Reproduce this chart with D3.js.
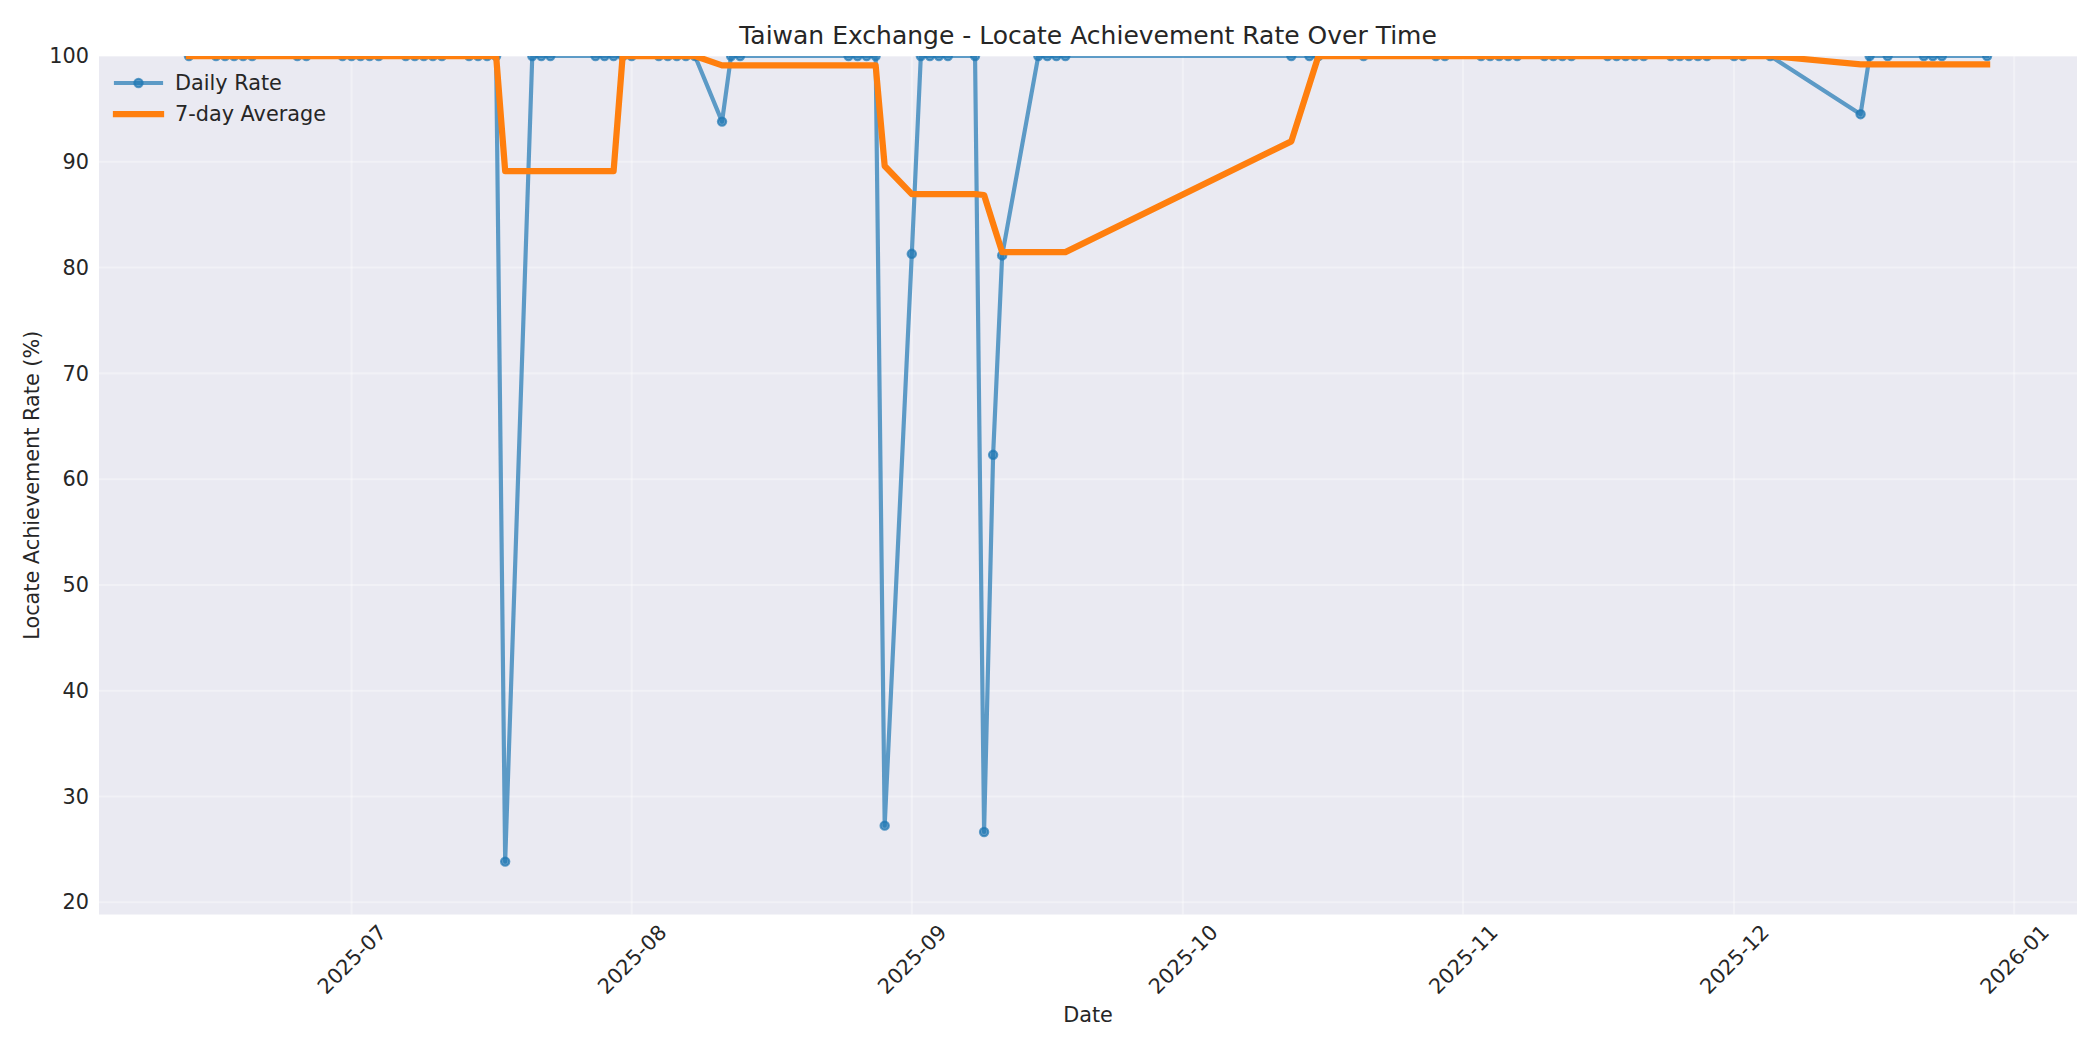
<!DOCTYPE html>
<html>
<head>
<meta charset="utf-8">
<script src="https://cdn.jsdelivr.net/npm/d3@7/dist/d3.min.js"></script>
<style>
  html, body { margin: 0; padding: 0; background: #fff; }
  text { font-family: "DejaVu Sans", sans-serif; fill: #262626; }
</style>
</head>
<body>
<svg id="chart" width="2100" height="1050"></svg>
<script>
// chart data
const CHART_TITLE = "Taiwan Exchange - Locate Achievement Rate Over Time";
const X_LABEL = "Date";
const Y_LABEL = "Locate Achievement Rate (%)";
const SERIES_NAMES = ["Daily Rate", "7-day Average"];

const dates = [
  "2025-06-13", "2025-06-16", "2025-06-17", "2025-06-18", "2025-06-19", "2025-06-20",
  "2025-06-25", "2025-06-26", "2025-06-30", "2025-07-01", "2025-07-02", "2025-07-03",
  "2025-07-04", "2025-07-07", "2025-07-08", "2025-07-09", "2025-07-10", "2025-07-11",
  "2025-07-14", "2025-07-15", "2025-07-16", "2025-07-17", "2025-07-18", "2025-07-21",
  "2025-07-22", "2025-07-23", "2025-07-28", "2025-07-29", "2025-07-30", "2025-07-31",
  "2025-08-01", "2025-08-04", "2025-08-05", "2025-08-06", "2025-08-07", "2025-08-08",
  "2025-08-11", "2025-08-12", "2025-08-13", "2025-08-25", "2025-08-26", "2025-08-27",
  "2025-08-28", "2025-08-29", "2025-09-01", "2025-09-02", "2025-09-03", "2025-09-04",
  "2025-09-05", "2025-09-08", "2025-09-09", "2025-09-10", "2025-09-11", "2025-09-15",
  "2025-09-16", "2025-09-17", "2025-09-18", "2025-10-13", "2025-10-15", "2025-10-16",
  "2025-10-21", "2025-10-29", "2025-10-30", "2025-11-03", "2025-11-04", "2025-11-05",
  "2025-11-06", "2025-11-07", "2025-11-10", "2025-11-11", "2025-11-12", "2025-11-13",
  "2025-11-17", "2025-11-18", "2025-11-19", "2025-11-20", "2025-11-21", "2025-11-24",
  "2025-11-25", "2025-11-26", "2025-11-27", "2025-11-28", "2025-12-01", "2025-12-02",
  "2025-12-05", "2025-12-15", "2025-12-16", "2025-12-18", "2025-12-22", "2025-12-23",
  "2025-12-24", "2025-12-29"
];

const dailyRate = [
  100, 100, 100, 100, 100, 100,
  100, 100, 100, 100, 100, 100,
  100, 100, 100, 100, 100, 100,
  100, 100, 100, 100, 23.85, 100,
  100, 100, 100, 100, 100, 100,
  100, 100, 100, 100, 100, 100,
  93.8, 100, 100, 100, 100, 100,
  100, 27.25, 81.3, 100, 100, 100,
  100, 100, 26.65, 62.3, 81.15, 100,
  100, 100, 100, 100, 100, 100,
  100, 100, 100, 100, 100, 100,
  100, 100, 100, 100, 100, 100,
  100, 100, 100, 100, 100, 100,
  100, 100, 100, 100, 100, 100,
  100, 94.5, 100, 100, 100, 100,
  100, 100
];

const avgRate = [
  100, 100, 100, 100, 100, 100,
  100, 100, 100, 100, 100, 100,
  100, 100, 100, 100, 100, 100,
  100, 100, 100, 100, 89.12, 89.12,
  89.12, 89.12, 89.12, 89.12, 89.12, 100,
  100, 100, 100, 100, 100, 100,
  99.11, 99.11, 99.11, 99.11, 99.11, 99.11,
  99.11, 89.6, 86.94, 86.94, 86.94, 86.94,
  86.94, 86.94, 86.86, 84.14, 81.46, 81.46,
  81.46, 81.46, 81.46, 91.93, 97.3, 100,
  100, 100, 100, 100, 100, 100,
  100, 100, 100, 100, 100, 100,
  100, 100, 100, 100, 100, 100,
  100, 100, 100, 100, 100, 100,
  100, 99.21, 99.21, 99.21, 99.21, 99.21,
  99.21, 99.21
];

const Y_TICKS = [20, 30, 40, 50, 60, 70, 80, 90, 100];

// layout
const WIDTH = 2100, HEIGHT = 1050;
const margin = { top: 56, right: 23, bottom: 135.5, left: 99 };
const innerW = WIDTH - margin.left - margin.right;
const innerH = HEIGHT - margin.top - margin.bottom;

const BLUE = "#1f77b4";
const ORANGE = "#ff7f0e";
const PANEL_BG = "#eaeaf2";
const TICK_FONT = "20.8px";

const parseDate = d3.timeParse("%Y-%m-%d");
const rows = dates.map((d, i) => ({ date: parseDate(d), daily: dailyRate[i], avg: avgRate[i] }));

// x domain padded 5% each side like matplotlib's default margins
const [t0, t1] = d3.extent(rows, d => d.date);
const pad = (t1 - t0) * 0.05;
const x = d3.scaleTime()
  .domain([new Date(+t0 - pad), new Date(+t1 + pad)])
  .range([0, innerW]);

const yMin = d3.min(dailyRate) - 5;
const y = d3.scaleLinear().domain([yMin, 100]).range([innerH, 0]);

const svg = d3.select("#chart");
const g = svg.append("g").attr("transform", `translate(${margin.left},${margin.top})`);

// panel
g.append("rect")
  .attr("width", innerW).attr("height", innerH)
  .attr("fill", PANEL_BG);

svg.append("defs").append("clipPath").attr("id", "plot-clip")
  .append("rect").attr("width", innerW).attr("height", innerH);

// grid lines (white, faint)
const xTicks = x.ticks(d3.timeMonth.every(1));
g.append("g").selectAll("line.vgrid")
  .data(xTicks).join("line")
  .attr("class", "vgrid")
  .attr("x1", d => x(d)).attr("x2", d => x(d))
  .attr("y1", 0).attr("y2", innerH)
  .attr("stroke", "#fff").attr("stroke-opacity", 0.35).attr("stroke-width", 2.08);

g.append("g").selectAll("line.hgrid")
  .data(Y_TICKS).join("line")
  .attr("class", "hgrid")
  .attr("x1", 0).attr("x2", innerW)
  .attr("y1", d => y(d)).attr("y2", d => y(d))
  .attr("stroke", "#fff").attr("stroke-opacity", 0.35).attr("stroke-width", 2.08);

// axes (no tick marks, seaborn darkgrid look)
const xAxis = g.append("g")
  .attr("transform", `translate(0,${innerH})`)
  .call(d3.axisBottom(x).tickValues(xTicks).tickFormat(d3.timeFormat("%Y-%m")).tickSize(0).tickPadding(0));
xAxis.select(".domain").remove();
xAxis.selectAll("text")
  .attr("font-size", TICK_FONT)
  .attr("text-anchor", "middle")
  .attr("dy", null)
  .attr("y", null)
  .attr("dominant-baseline", "central")
  .attr("transform", "translate(0,45) rotate(-45)");

const yAxis = g.append("g")
  .call(d3.axisLeft(y).tickValues(Y_TICKS).tickSize(0).tickPadding(10));
yAxis.select(".domain").remove();
yAxis.selectAll("text").attr("font-size", TICK_FONT);

// series
const plot = g.append("g").attr("clip-path", "url(#plot-clip)");

const dailyLine = d3.line().x(d => x(d.date)).y(d => y(d.daily));
const avgLine = d3.line().x(d => x(d.date)).y(d => y(d.avg));

plot.append("path")
  .datum(rows)
  .attr("d", dailyLine)
  .attr("fill", "none")
  .attr("stroke", BLUE)
  .attr("stroke-opacity", 0.7)
  .attr("stroke-width", 4.17)
  .attr("stroke-linejoin", "round")
  .attr("stroke-linecap", "square");

plot.append("g").selectAll("circle")
  .data(rows).join("circle")
  .attr("cx", d => x(d.date))
  .attr("cy", d => y(d.daily))
  .attr("r", 4.17)
  .attr("fill", BLUE).attr("fill-opacity", 0.7)
  .attr("stroke", BLUE).attr("stroke-opacity", 0.7).attr("stroke-width", 2.08);

plot.append("path")
  .datum(rows)
  .attr("d", avgLine)
  .attr("fill", "none")
  .attr("stroke", ORANGE)
  .attr("stroke-width", 6.25)
  .attr("stroke-linejoin", "round")
  .attr("stroke-linecap", "square");

// legend, upper left, no frame
const legend = g.append("g").attr("transform", "translate(17,27)");
const legendRows = legend.selectAll("g")
  .data(SERIES_NAMES).join("g")
  .attr("transform", (d, i) => `translate(0,${i * 31})`);

legendRows.append("line")
  .attr("x1", 0).attr("x2", 45).attr("y1", 0).attr("y2", 0)
  .attr("stroke", (d, i) => i === 0 ? BLUE : ORANGE)
  .attr("stroke-opacity", (d, i) => i === 0 ? 0.7 : 1)
  .attr("stroke-width", (d, i) => i === 0 ? 4.17 : 6.25)
  .attr("stroke-linecap", "square");

legendRows.filter((d, i) => i === 0).append("circle")
  .attr("cx", 22.5).attr("cy", 0).attr("r", 4.17)
  .attr("fill", BLUE).attr("fill-opacity", 0.7)
  .attr("stroke", BLUE).attr("stroke-opacity", 0.7).attr("stroke-width", 2.08);

legendRows.append("text")
  .attr("x", 59).attr("y", 0)
  .attr("dy", "0.35em")
  .attr("font-size", "20.8px")
  .text(d => d);

// title and axis labels
svg.append("text")
  .attr("x", margin.left + innerW / 2).attr("y", 35)
  .attr("dy", "0.35em")
  .attr("text-anchor", "middle")
  .attr("font-size", "25px")
  .text(CHART_TITLE);

svg.append("text")
  .attr("x", margin.left + innerW / 2).attr("y", 1015)
  .attr("dy", "0.35em")
  .attr("text-anchor", "middle")
  .attr("font-size", "20.8px")
  .text(X_LABEL);

svg.append("text")
  .attr("transform", `translate(32,${margin.top + innerH / 2}) rotate(-90)`)
  .attr("dy", "0.35em")
  .attr("text-anchor", "middle")
  .attr("font-size", "20.8px")
  .text(Y_LABEL);
</script>
</body>
</html>
